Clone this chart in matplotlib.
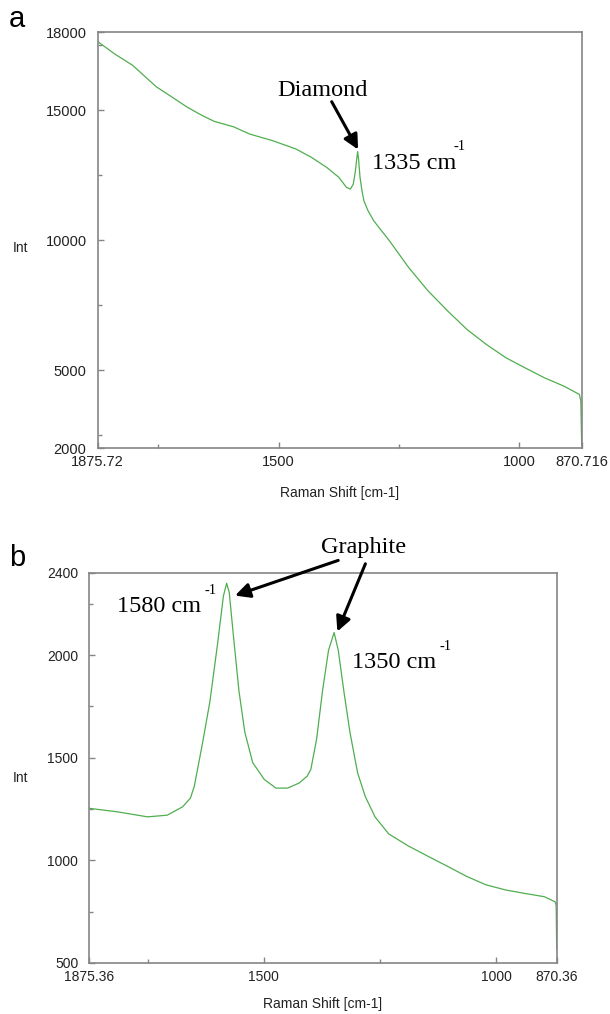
import matplotlib
matplotlib.use("Agg")
import matplotlib.pyplot as plt
from matplotlib.ticker import FixedLocator

# ---------------- data ----------------
shift_a = [1875.72, 1871.7, 1840, 1803, 1780, 1754.6, 1720, 1690, 1660, 1633.5, 1593, 1561,
           1512.5, 1464, 1432, 1400, 1375, 1359, 1351, 1345, 1341, 1338, 1336, 1334, 1331,
           1327, 1323, 1315, 1302.6, 1270, 1230, 1189.6, 1149, 1109, 1068.5, 1028, 988,
           948, 907.8, 875.5, 872.5, 870.716]
int_a = [17650, 17577, 17150, 16716, 16330, 15900, 15480, 15110, 14800, 14560, 14350, 14080,
         13820, 13500, 13180, 12790, 12410, 12020, 11960, 12150, 12600, 13100, 13400, 13100, 12410,
         11900, 11510, 11150, 10740, 9970, 8940, 8040, 7270, 6560, 5980, 5470, 5080,
         4700, 4380, 4060, 3800, 2100]

shift_b = [1875.36, 1873.7, 1816.8, 1750, 1708, 1674.7, 1658, 1649.6, 1632.9, 1616, 1599.5,
           1587, 1580, 1574.4, 1566, 1553.5, 1541, 1524, 1499, 1474, 1449, 1424, 1407, 1399,
           1386.5, 1374, 1361, 1349, 1340, 1328, 1315, 1298.5, 1282, 1261, 1231.6, 1190,
           1148, 1106, 1064, 1022.5, 980.6, 939, 897, 873.7, 871.5, 870.36]
int_b = [1255, 1253, 1237, 1212, 1220, 1261, 1303, 1361, 1559, 1774, 2056,
         2288, 2350, 2304, 2106, 1824, 1625, 1476, 1394, 1352, 1352, 1377, 1410, 1443,
         1592, 1824, 2023, 2110, 2023, 1824, 1625, 1427, 1311, 1212, 1129, 1071,
         1021, 972, 922, 881, 856, 839, 823, 798, 780, 570]

xlim_a = (1875.72, 870.716)
ylim_a = (2000, 18000)
xticks_a = [1875.72, 1500, 1000, 870.716]
xticklabels_a = ["1875.72", "1500", "1000", "870.716"]
xminor_a = [1750, 1250]
yticks_a = [2000, 5000, 10000, 15000, 18000]
yticklabels_a = ["2000", "5000", "10000", "15000", "18000"]
yminor_a = [2500, 7500, 12500, 17500]

xlim_b = (1875.36, 870.36)
ylim_b = (500, 2400)
xticks_b = [1875.36, 1500, 1000, 870.36]
xticklabels_b = ["1875.36", "1500", "1000", "870.36"]
xminor_b = [1750, 1250]
yticks_b = [500, 1000, 1500, 2000, 2400]
yticklabels_b = ["500", "1000", "1500", "2000", "2400"]
yminor_b = [750, 1250, 1750, 2250]

xlabel = "Raman Shift [cm-1]"
ylabel = "Int"

# ---------------- figure ----------------
W, H = 610, 1014
fig = plt.figure(figsize=(W / 100, H / 100), dpi=100)
SANS = ["Liberation Sans", "DejaVu Sans"]
SERIF = ["Liberation Serif", "DejaVu Serif"]
FRAME = "#858585"
GREEN = "#4fae4f"
ANN_FS = 17.5


def fx(px):
    return px / W


def fy(py):
    return 1 - py / H


def make_axes(rect, xs, ys, xlim, ylim, xt, xtl, xmin, yt, ytl, ymin, fs):
    ax = fig.add_axes(rect)
    ax.plot(xs, ys, color=GREEN, lw=0.9)
    ax.set_xlim(*xlim)
    ax.set_ylim(*ylim)
    ax.xaxis.set_major_locator(FixedLocator(xt))
    ax.set_xticklabels(xtl, fontsize=fs, family=SANS, color="#222222")
    ax.xaxis.set_minor_locator(FixedLocator(xmin))
    ax.yaxis.set_major_locator(FixedLocator(yt))
    ax.set_yticklabels(ytl, fontsize=fs, family=SANS, color="#222222")
    ax.yaxis.set_minor_locator(FixedLocator(ymin))
    ax.tick_params(which="both", direction="in", color=FRAME, width=1.0)
    ax.tick_params(which="major", length=4)
    ax.tick_params(which="minor", length=3)
    ax.tick_params(axis="y", pad=8)
    ax.tick_params(axis="x", pad=5)
    for s in ax.spines.values():
        s.set_color(FRAME)
        s.set_linewidth(1.2)
    return ax


# panel a
axa = make_axes([fx(97.7), fy(448), fx(581.7) - fx(97.7), fy(32) - fy(448)],
                shift_a, int_a, xlim_a, ylim_a, xticks_a, xticklabels_a, xminor_a,
                yticks_a, yticklabels_a, yminor_a, 10.5)
# panel b
axb = make_axes([fx(89.3), fy(963), fx(556.7) - fx(89.3), fy(573) - fy(963)],
                shift_b, int_b, xlim_b, ylim_b, xticks_b, xticklabels_b, xminor_b,
                yticks_b, yticklabels_b, yminor_b, 10)

# axis labels
fig.text(fx(339.7), fy(493), xlabel, ha="center", va="center", fontsize=10, family=SANS, color="#222222")
fig.text(fx(323), fy(1004), xlabel, ha="center", va="center", fontsize=10, family=SANS, color="#222222")
fig.text(fx(20), fy(248), ylabel, ha="center", va="center", fontsize=10, family=SANS, color="#222222")
fig.text(fx(20), fy(778), ylabel, ha="center", va="center", fontsize=10, family=SANS, color="#222222")

# panel letters
fig.text(fx(17), fy(19), "a", ha="center", va="center", fontsize=21, family=SANS)
fig.text(fx(17), fy(558), "b", ha="center", va="center", fontsize=21, family=SANS)

ARROW = dict(arrowstyle="-|>", color="black", lw=2.2, mutation_scale=22,
             shrinkA=0, shrinkB=0)

# annotations panel a
fig.text(fx(322.5), fy(91), "Diamond", ha="center", va="center", fontsize=ANN_FS, family=SERIF)
axa.annotate("", xy=(1335, 13480), xycoords="data",
             xytext=(fx(331.7), fy(101.7)), textcoords="figure fraction", arrowprops=ARROW)
fig.text(fx(371.7), fy(163.5), "1335 cm", ha="left", va="center", fontsize=ANN_FS, family=SERIF)
fig.text(fx(460), fy(147), "-1", ha="center", va="center", fontsize=10.5, family=SERIF)

# annotations panel b
fig.text(fx(364), fy(547), "Graphite", ha="center", va="center", fontsize=ANN_FS, family=SERIF)
axb.annotate("", xy=(1562, 2290), xycoords="data",
             xytext=(fx(338.2), fy(560.4)), textcoords="figure fraction", arrowprops=ARROW)
axb.annotate("", xy=(1342, 2115), xycoords="data",
             xytext=(fx(365.4), fy(563.8)), textcoords="figure fraction", arrowprops=ARROW)
fig.text(fx(116.5), fy(607), "1580 cm", ha="left", va="center", fontsize=ANN_FS, family=SERIF)
fig.text(fx(211), fy(591), "-1", ha="center", va="center", fontsize=10.5, family=SERIF)
fig.text(fx(351.7), fy(662), "1350 cm", ha="left", va="center", fontsize=ANN_FS, family=SERIF)
fig.text(fx(446), fy(647), "-1", ha="center", va="center", fontsize=10.5, family=SERIF)

fig.savefig("out.png", dpi=100)
